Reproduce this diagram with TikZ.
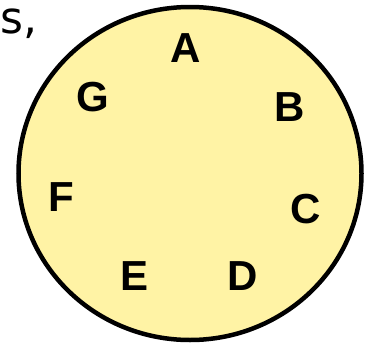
\documentclass[tikz,border=0pt]{standalone}
\usepackage{fontspec}
\setmainfont{Liberation Sans}
\newfontfamily\scrfont{DejaVu Sans}
\definecolor{fillyel}{RGB}{255,243,165}
\tikzset{lab/.style={font=\bfseries\fontsize{42}{42}\selectfont, inner sep=0pt, anchor=center}}
\begin{document}
\begin{tikzpicture}[x=1pt,y=-1pt]
\useasboundingbox (0,0) rectangle (367,343);
\node[font=\scrfont\fontsize{44}{44}\selectfont, inner sep=0pt, anchor=base west] (s) at (0.5,33) {s,};
\draw[line width=4.5pt, fill=fillyel] (190,173.5) ellipse [x radius=171.5, y radius=166.5];
\node[lab] (A) at (186,48) {A};
\node[lab] (B) at (290,107) {B};
\node[lab] (C) at (306,209) {C};
\node[lab] (D) at (243,276) {D};
\node[lab] (E) at (135,276) {E};
\node[lab] (F) at (61,197) {F};
\node[lab] (G) at (93,97) {G};
\end{tikzpicture}
\end{document}
